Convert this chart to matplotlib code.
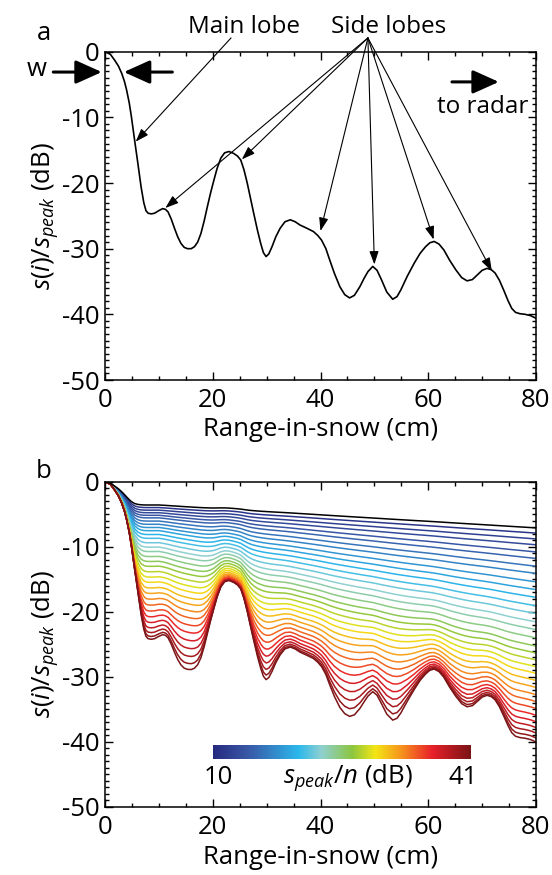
import numpy as np
import matplotlib
matplotlib.use('Agg')
import matplotlib.pyplot as plt
from matplotlib.colors import LinearSegmentedColormap, Normalize
from matplotlib.ticker import MultipleLocator

plt.rcParams['font.family'] = ['Open Sans', 'DejaVu Sans']
plt.rcParams['mathtext.fontset'] = 'custom'
plt.rcParams['mathtext.rm'] = 'Open Sans'
plt.rcParams['mathtext.it'] = 'Open Sans:italic'
plt.rcParams['mathtext.bf'] = 'Open Sans:bold'
plt.rcParams['axes.unicode_minus'] = False

# noise-free waveform (panel a)
range_cm = [0.0, 1.0, 1.8, 2.5, 3.1, 3.6, 4.0, 4.5, 4.9, 5.5, 6.1, 6.7, 7.2, 7.6,
            8.0, 8.6, 9.2, 10.0, 10.7, 11.2, 11.7, 12.3, 12.9, 13.5, 14.1, 14.7,
            15.3, 16.0, 16.6, 17.2, 17.8, 18.4, 19.0, 19.6, 20.2, 20.8, 21.5, 22.2,
            23.0, 23.9, 24.6, 25.2, 25.8, 26.4, 27.0, 27.6, 28.3, 28.9, 29.4, 29.9,
            30.4, 31.0, 31.7, 32.5, 33.4, 34.4, 35.3, 36.2, 37.5, 38.7, 39.5, 40.2,
            41.0, 41.7, 42.6, 43.6, 44.5, 45.4, 46.3, 47.3, 48.1, 48.8, 49.7, 50.5,
            51.3, 52.3, 53.4, 54.2, 54.9, 56.1, 57.4, 58.5, 59.5, 60.3, 61.1, 62.0,
            62.9, 64.0, 65.1, 66.2, 67.2, 68.2, 69.1, 70.0, 70.9, 71.7, 72.4, 73.2,
            74.0, 74.8, 75.5, 76.2, 77.0, 78.0, 79.0, 80.0]
power_db = [0.0, -0.4, -1.3, -2.2, -3.3, -4.5, -5.8, -7.8, -9.9, -13.5, -17.0,
            -20.6, -23.0, -24.2, -24.6, -24.7, -24.6, -24.2, -23.9, -24.0, -24.4,
            -25.5, -26.9, -28.2, -29.2, -29.8, -30.0, -30.0, -29.7, -29.0, -27.7,
            -25.8, -23.6, -21.5, -19.6, -17.8, -16.2, -15.4, -15.2, -15.5, -15.9,
            -16.5, -18.0, -20.0, -22.3, -24.6, -27.2, -29.2, -30.6, -31.2, -30.8,
            -29.7, -28.2, -26.9, -25.9, -25.6, -25.9, -26.4, -26.9, -27.4, -28.0,
            -28.7, -30.0, -31.7, -33.8, -35.8, -37.0, -37.5, -37.1, -35.8, -34.5,
            -33.5, -32.7, -33.3, -34.7, -36.6, -37.7, -37.3, -36.3, -34.2, -32.2,
            -30.7, -29.7, -29.1, -28.9, -29.3, -30.2, -31.8, -33.2, -34.4, -34.9,
            -34.7, -34.0, -33.3, -33.0, -33.2, -33.7, -34.8, -36.3, -37.9, -39.1,
            -39.7, -39.9, -40.0, -40.2, -40.6]

# panel b: one curve per peak-to-noise ratio, level seen at 10 cm and at 80 cm
snr_db = list(range(10, 42))
level_10cm = [-3.6, -4.0, -4.4, -4.8, -5.2, -5.6, -6.1, -6.6, -7.1, -7.6, -8.2,
              -8.8, -9.5, -10.2, -10.9, -11.7, -12.5, -13.3, -14.2, -15.1, -16.0,
              -17.0, -18.0, -19.1, -20.3, -21.6, -23.0, -24.6, -26.4, -28.5, -31.0,
              -34.0]
level_80cm = [-7.1, -7.9, -8.8, -9.7, -10.8, -11.8, -13.0, -14.1, -15.4, -16.6,
              -17.8, -19.1, -20.3, -21.6, -22.8, -24.1, -25.4, -26.5, -27.6, -28.7,
              -29.8, -31.0, -32.2, -33.5, -34.8, -36.2, -37.7, -39.3, -41.0, -43.0,
              -45.5, -49.0]

main_lobe_tip = (5.7, -13.7)
side_lobe_tips = [(11.2, -23.8), (25.4, -16.4), (40.0, -27.3),
                  (50.0, -32.4), (61.0, -28.6), (71.8, -33.4)]

cmap = LinearSegmentedColormap.from_list('snr', [
    (0.0, '#262a80'), (0.14, '#3a5aa8'), (0.33, '#2bb8ec'), (0.42, '#8fd0d0'),
    (0.54, '#8cc63f'), (0.63, '#f4e616'), (0.73, '#f7941d'), (0.85, '#e8202a'),
    (1.0, '#7a1416')])
norm = Normalize(10, 41)

FS = 18.5
W, H = 552, 875
LEFT, RIGHT = 105, 536
fig = plt.figure(figsize=(W / 100, H / 100), dpi=100)


def px(x, y):
    return x / W, 1 - y / H


def style_axes(ax):
    ax.set_xlim(0, 80)
    ax.set_ylim(-50, 0)
    ax.xaxis.set_major_locator(MultipleLocator(20))
    ax.xaxis.set_minor_locator(MultipleLocator(5))
    ax.yaxis.set_major_locator(MultipleLocator(10))
    ax.yaxis.set_minor_locator(MultipleLocator(1))
    ax.tick_params(which='both', direction='in', top=True, right=True, width=1)
    ax.tick_params(which='major', length=6, labelsize=FS)
    ax.tick_params(which='minor', length=3)
    ax.tick_params(axis='y', pad=4)
    ax.tick_params(axis='x', pad=6)
    for s in ax.spines.values():
        s.set_linewidth(1.1)
    ax.set_xlabel('Range-in-snow (cm)', fontsize=FS, labelpad=3)
    ax.set_ylabel(r'$s(i)/s_{peak}$ (dB)', fontsize=FS, labelpad=1)


x = np.array(range_cm)
y = np.array(power_db)

# ---- panel a
ax1 = fig.add_axes([LEFT / W, 1 - 380 / H, (RIGHT - LEFT) / W, 328.3 / H])
ax1.plot(x, y, color='black', lw=1.2)
style_axes(ax1)

small = dict(arrowstyle='-|>,head_length=0.8,head_width=0.28', color='black',
             lw=0.8, mutation_scale=10, shrinkA=0, shrinkB=0)
big = dict(arrowstyle='-|>,head_length=0.8,head_width=0.36', color='black',
           lw=2.2, mutation_scale=20, shrinkA=0, shrinkB=0)

ax1.annotate('', xy=main_lobe_tip, xytext=(23.4, 2.1), arrowprops=small,
             annotation_clip=False)
for tip in side_lobe_tips:
    ax1.annotate('', xy=tip, xytext=(48.8, 2.1), arrowprops=small,
                 annotation_clip=False)
ax1.annotate('', xy=(-0.6, -3.1), xytext=(-9.6, -3.1), arrowprops=big,
             annotation_clip=False)
ax1.annotate('', xy=(3.5, -3.1), xytext=(12.5, -3.1), arrowprops=big,
             annotation_clip=False)
ax1.annotate('', xy=(73.1, -4.6), xytext=(64.4, -4.6), arrowprops=big,
             annotation_clip=False)

fig.text(*px(244, 27), 'Main lobe', fontsize=17.5, ha='center', va='center')
fig.text(*px(389, 27), 'Side lobes', fontsize=17.5, ha='center', va='center')
fig.text(*px(483, 107), 'to radar', fontsize=17.5, ha='center', va='center')
fig.text(*px(37, 70), 'w', fontsize=FS, ha='center', va='center')
fig.text(*px(44, 33), 'a', fontsize=FS, ha='center', va='center')

# ---- panel b
ax2 = fig.add_axes([LEFT / W, 1 - 807 / H, (RIGHT - LEFT) / W, 325.3 / H])
base = 10 ** (y / 10)
for k, snr in enumerate(snr_db):
    d10 = 10 ** (level_10cm[k] / 10)
    f10 = d10 / (1 - d10)
    f80 = 10 ** (level_80cm[k] / 10) * (1 + f10)
    a10, a80 = 10 * np.log10(f10), 10 * np.log10(f80)
    floor_db = np.where(x < 10, a10, a10 + (a80 - a10) * (x - 10) / 70)
    curve = 10 * np.log10((base + 10 ** (floor_db / 10)) / (1 + f10))
    color = 'black' if k == 0 else cmap(norm(snr))
    ax2.plot(x, curve, color=color, lw=1.1, zorder=3 if k == 0 else 2)

grad = np.linspace(snr_db[0], snr_db[-1], 256)[None, :]
ax2.imshow(grad, extent=[20, 67.8, -42.6, -40.5], aspect='auto', cmap=cmap,
           norm=norm, zorder=4)
style_axes(ax2)
ax2.text(21, -45.4, str(snr_db[0]), fontsize=FS, ha='center', va='center')
ax2.text(66.5, -45.4, str(snr_db[-1]), fontsize=FS, ha='center', va='center')
ax2.text(45, -45.4, r'$s_{peak}/n$ (dB)', fontsize=FS, ha='center', va='center')
fig.text(*px(44, 471), 'b', fontsize=FS, ha='center', va='center')

fig.savefig('out.png', dpi=100)
